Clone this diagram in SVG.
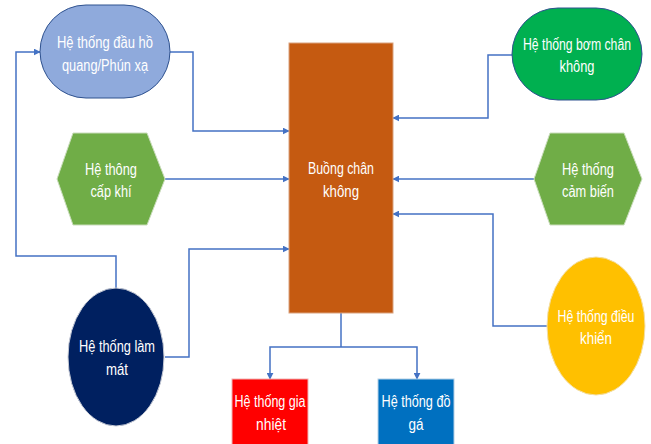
<svg xmlns="http://www.w3.org/2000/svg" width="651" height="444" viewBox="0 0 651 444">
<defs>
<marker id="arr" viewBox="0 0 10 10" refX="9" refY="5" markerWidth="7" markerHeight="7" markerUnits="userSpaceOnUse" orient="auto">
<path d="M0,0 L10,5 L0,10 Z" fill="#4472C4"/>
</marker>
</defs>
<style>
.t{font-family:"Liberation Sans",Arial,sans-serif;font-size:16px;fill:#fff;text-anchor:middle}
.c{fill:none;stroke:#4472C4;stroke-width:1.5;marker-end:url(#arr)}
.c2{fill:none;stroke:#4472C4;stroke-width:1.5}
</style>
<rect width="651" height="444" fill="#fff"/>
<g id="connectors">
<polyline class="c" points="170,52 193,52 193,131 289,131"/>
<polyline class="c" points="512,55 488,55 488,118 393,118"/>
<polyline class="c" points="165,179 289,179"/>
<polyline class="c" points="534,179 393,179"/>
<polyline class="c" points="547,326 493,326 493,214 393,214"/>
<polyline class="c" points="116,288 116,256 16,256 16,52 40,52"/>
<polyline class="c" points="165,357 189,357 189,249 289,249"/>
<polyline class="c2" points="341,313 341,347"/>
<polyline class="c" points="341,347 270,347 270,379"/>
<polyline class="c" points="341,347 417,347 417,379"/>
</g>
<g id="chamber">
<rect x="289" y="43" width="104" height="270" fill="#C55A11" stroke="#d9a27e" stroke-width="1"/>
<text class="t" x="341" y="174" textLength="66" lengthAdjust="spacingAndGlyphs">Buồng chân</text>
<text class="t" x="341" y="197" textLength="36" lengthAdjust="spacingAndGlyphs">không</text>
</g>
<g id="arc">
<rect x="40" y="5" width="130" height="93" rx="46" ry="46.5" fill="#8FAADC" stroke="#2F528F" stroke-width="1"/>
<text class="t" x="105" y="48" textLength="96" lengthAdjust="spacingAndGlyphs">Hệ thống đầu hồ</text>
<text class="t" x="105" y="71" textLength="86" lengthAdjust="spacingAndGlyphs">quang/Phún xạ</text>
</g>
<g id="pump">
<rect x="512" y="8" width="130" height="92" rx="46" ry="46" fill="#00B050" stroke="#2F528F" stroke-width="1"/>
<text class="t" x="577" y="50" textLength="108" lengthAdjust="spacingAndGlyphs">Hệ thống bơm chân</text>
<text class="t" x="577" y="72" textLength="35" lengthAdjust="spacingAndGlyphs">không</text>
</g>
<g id="gas">
<polygon points="57,179 73,133 147,133 165,179 147,225 73,225" fill="#70AD47" stroke="#c9dcbb" stroke-width="1"/>
<text class="t" x="111" y="175" textLength="52" lengthAdjust="spacingAndGlyphs">Hệ thông</text>
<text class="t" x="111" y="197" textLength="41" lengthAdjust="spacingAndGlyphs">cấp khí</text>
</g>
<g id="sensor">
<polygon points="534,179 550,133 624,133 642,179 624,225 550,225" fill="#70AD47" stroke="#c9dcbb" stroke-width="1"/>
<text class="t" x="588" y="175" textLength="52" lengthAdjust="spacingAndGlyphs">Hệ thống</text>
<text class="t" x="588" y="197" textLength="52" lengthAdjust="spacingAndGlyphs">cảm biến</text>
</g>
<g id="control">
<ellipse cx="596" cy="326" rx="49" ry="69" fill="#FFC000" stroke="#f3dfa6" stroke-width="1"/>
<text class="t" x="596" y="322" textLength="77" lengthAdjust="spacingAndGlyphs">Hệ thống điều</text>
<text class="t" x="596" y="344" textLength="32" lengthAdjust="spacingAndGlyphs">khiển</text>
</g>
<g id="cooling">
<ellipse cx="116" cy="357" rx="48" ry="69" fill="#002060" stroke="#c7cbd6" stroke-width="1"/>
<text class="t" x="117" y="352" textLength="76" lengthAdjust="spacingAndGlyphs">Hệ thống làm</text>
<text class="t" x="117" y="375" textLength="22" lengthAdjust="spacingAndGlyphs">mát</text>
</g>
<g id="heating">
<rect x="232" y="379" width="76" height="70" fill="#FF0000" stroke="#f0b4b4" stroke-width="1"/>
<text class="t" x="270" y="407" textLength="71" lengthAdjust="spacingAndGlyphs">Hệ thống gia</text>
<text class="t" x="271" y="430" textLength="30" lengthAdjust="spacingAndGlyphs">nhiệt</text>
</g>
<g id="fixture">
<rect x="378" y="379" width="76" height="70" fill="#0070C0" stroke="#b4cfe6" stroke-width="1"/>
<text class="t" x="416" y="407" textLength="69" lengthAdjust="spacingAndGlyphs">Hệ thống đồ</text>
<text class="t" x="416" y="430" textLength="15" lengthAdjust="spacingAndGlyphs">gá</text>
</g>
</svg>
